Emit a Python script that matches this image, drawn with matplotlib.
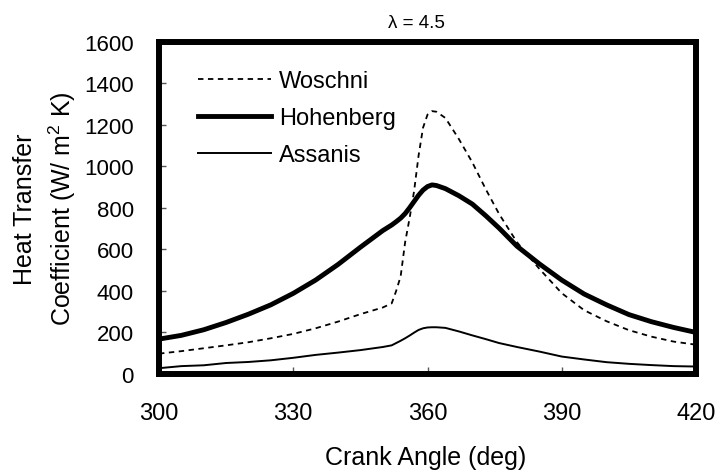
# Heat transfer coefficient vs crank angle, lambda = 4.5
import matplotlib
matplotlib.use('Agg')
import matplotlib.pyplot as plt
import numpy as np

plt.rcParams['font.family'] = ['Liberation Sans', 'DejaVu Sans']
plt.rcParams['mathtext.default'] = 'regular'

# Data
crank_angle = [300, 305, 310, 315, 320, 325, 330, 335, 340, 345, 350, 352, 353, 354,
               355, 356, 357, 358, 359, 360, 361, 362, 364, 367, 370, 373, 376, 380,
               385, 390, 395, 400, 405, 410, 415, 420]
woschni = [98, 110, 124, 138, 153, 172, 193, 220, 252, 288, 320, 340, 400, 470,
           634, 750, 880, 1050, 1185, 1248, 1265, 1262, 1232, 1131, 1019, 890, 770, 634,
           506, 389, 307, 254, 211, 180, 156, 141]
hohenberg = [168, 186, 213, 248, 288, 333, 388, 452, 527, 610, 690, 717, 733, 750,
             772, 800, 830, 860, 885, 902, 910, 907, 892, 858, 818, 762, 702, 615,
             530, 452, 385, 333, 286, 252, 224, 200]
assanis = [28, 38, 42, 53, 58, 66, 78, 92, 103, 115, 130, 138, 149, 160,
           172, 185, 199, 212, 220, 224, 225, 225, 222, 205, 186, 168, 149, 130,
           108, 84, 70, 57, 49, 43, 38, 36]

x_ticks = [300, 330, 360, 390, 420]
y_ticks = [0, 200, 400, 600, 800, 1000, 1200, 1400, 1600]

fig = plt.figure(figsize=(7.2, 4.77), dpi=100)
ax = fig.add_axes([0.2208, 0.2138, 0.7459, 0.6971])

ax.plot(crank_angle, woschni, color='black', lw=1.3, dashes=(3, 2.5), label='Woschni')
ax.plot(crank_angle, hohenberg, color='black', lw=3.5, label='Hohenberg')
ax.plot(crank_angle, assanis, color='black', lw=1.4, label='Assanis')

ax.set_xlim(300, 420)
ax.set_ylim(0, 1600)
ax.set_xticks(x_ticks)
ax.set_yticks(y_ticks)

# heavy frame, inward ticks
for s in ax.spines.values():
    s.set_linewidth(4.3)
ax.tick_params(direction='in', length=5, width=1, color='#555555')
ax.tick_params(axis='x', labelsize=17, pad=20)
ax.tick_params(axis='y', labelsize=16, pad=18)

# axis labels
ax.set_xlabel('Crank Angle (deg)', fontsize=18)
ax.xaxis.set_label_coords(0.497, -0.25)
ax.xaxis.label.set_va('center')
ax.set_ylabel('Heat Transfer\nCoefficient (W/ m$^2$ K)', fontsize=18, linespacing=1.4)
ax.yaxis.set_label_coords(-0.212, 0.5)
ax.yaxis.label.set_va('center')

fig.text(416 / 720, 1 - 24 / 477, '\u03bb = 4.5', ha='center', va='center', fontsize=13.5)

ax.legend(loc='upper left', bbox_to_anchor=(0.0726, 0.914), frameon=False, fontsize=17,
          handlelength=3.1, handletextpad=0.34, labelspacing=0.63, borderpad=0,
          borderaxespad=0)

fig.savefig('out.png', dpi=100)
